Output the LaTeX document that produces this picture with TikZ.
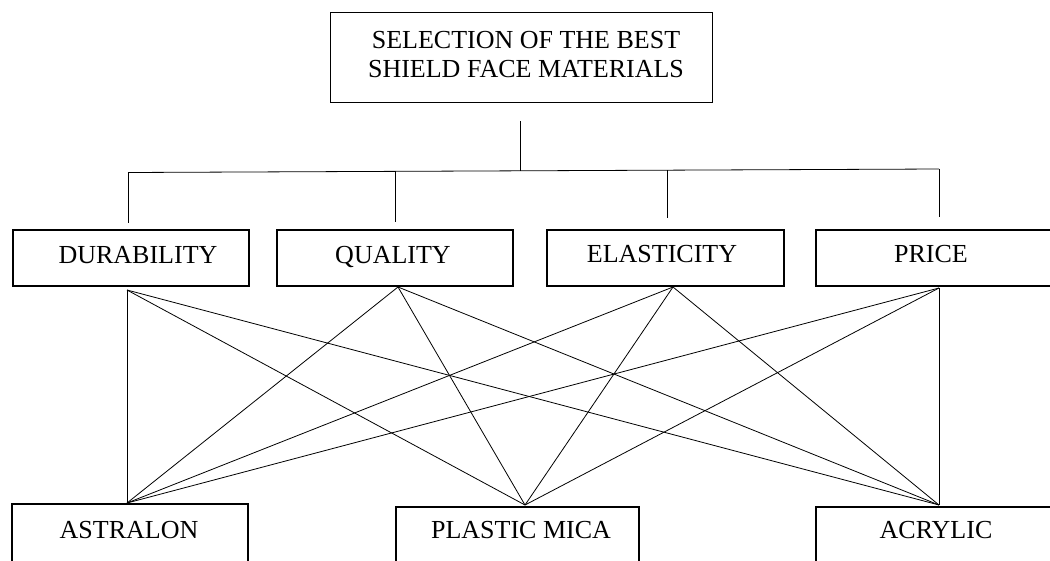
\documentclass[tikz,border=0pt]{standalone}
\usepackage{fontspec}
\setmainfont{Liberation Serif}
\begin{document}
\begin{tikzpicture}[x=1pt,y=-1pt,
  box/.style={draw, line width=2pt, inner sep=0pt},
  head/.style={draw, line width=0.9pt, inner sep=0pt, minimum width=382pt, minimum height=90pt},
  txt/.style={inner sep=0pt, anchor=base, font=\fontsize{26}{29}\selectfont},
  link/.style={line width=0.8pt}]
\useasboundingbox (0,0) rectangle (1050,560);
\clip (0,0) rectangle (1050,560);
% top box
\node[head] (top) at (521,57) {};
\node[txt, align=center, anchor=base] (toptxt) at (526,77) {SELECTION OF THE BEST\\SHIELD FACE MATERIALS};
% criteria boxes
\node[box, minimum width=236.3pt, minimum height=56pt] (dur) at (131,258) {};
\node[txt] (durt) at (138,263) {DURABILITY};
\node[box, minimum width=236pt, minimum height=56pt] (qua) at (395,258) {};
\node[txt] (quat) at (393,263) {QUALITY};
\node[box, minimum width=237pt, minimum height=56pt] (ela) at (665.5,258) {};
\node[txt] (elat) at (662,262) {ELASTICITY};
\node[box, minimum width=236pt, minimum height=56pt] (pri) at (934,258) {};
\node[txt] (prit) at (931,262) {PRICE};
% material boxes
\node[box, minimum width=236pt, minimum height=61pt] (ast) at (130,534.5) {};
\node[txt] (astt) at (129,538) {ASTRALON};
\node[box, minimum width=243pt, minimum height=58pt] (pmc) at (517.5,536) {};
\node[txt] (pmct) at (521,538) {PLASTIC MICA};
\node[box, minimum width=236pt, minimum height=58pt] (acr) at (934,536) {};
\node[txt] (acrt) at (936,538) {ACRYLIC};
% tree coordinates
\coordinate (ts) at (520,121);
\coordinate (tj) at (520,170.8);
\coordinate (hl) at (128,172.5);
\coordinate (hr) at (939,169);
\coordinate (hq) at (395,171.35);
\coordinate (he) at (667,170.17);
\coordinate (dt) at (128,223);
\coordinate (qt) at (395,222);
\coordinate (et) at (667,218);
\coordinate (pt) at (939,217);
\draw[link] (ts) -- (tj);
\draw[link] (hl) -- (hr);
\draw[link] (hl) -- (dt);
\draw[link] (hq) -- (qt);
\draw[link] (he) -- (et);
\draw[link] (hr) -- (pt);
% connection points
\coordinate (db) at (127,290);
\coordinate (qb) at (398,287);
\coordinate (eb) at (673,287);
\coordinate (pb) at (939,288);
\coordinate (at) at (127,503);
\coordinate (mt) at (525,505);
\coordinate (ct) at (939,505);
\foreach \s in {db,qb,eb,pb}{
  \foreach \t in {at,mt,ct}{
    \draw[link] (\s) -- (\t);
  }
}
\end{tikzpicture}
\end{document}
